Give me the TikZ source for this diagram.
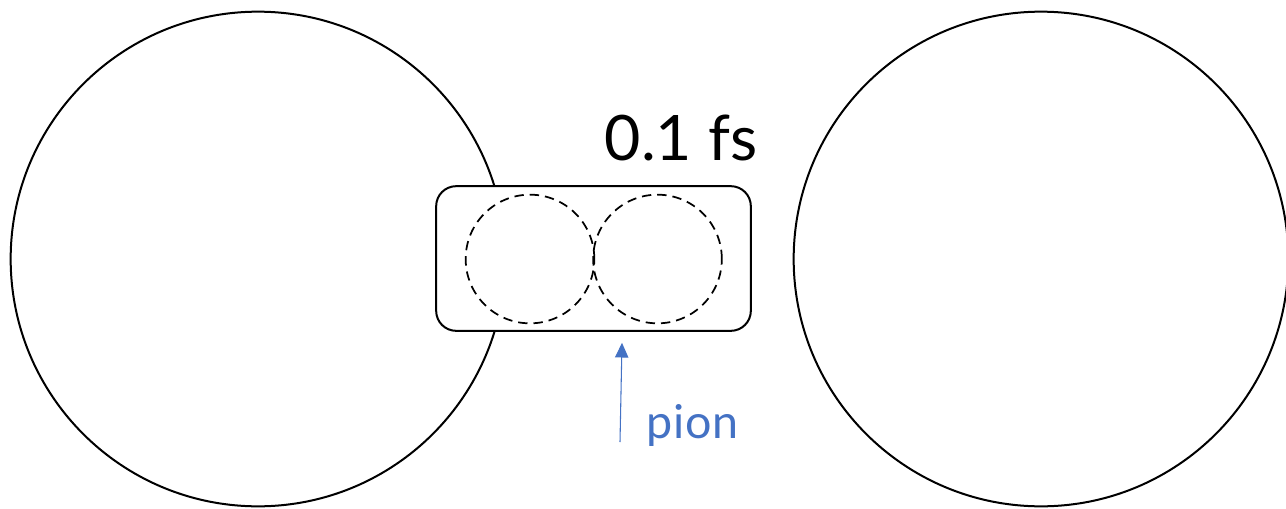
\documentclass[tikz,border=0pt]{standalone}
\usepackage{fontspec}
\setmainfont{Lato}
\usetikzlibrary{arrows.meta, calc, positioning}
\definecolor{pionBlue}{RGB}{68,114,196}

\begin{document}
\begin{tikzpicture}[
  x=0.75pt, y=-0.75pt,
  nucleus/.style={circle, draw=black, line width=1.5pt,
    minimum size=371pt, inner sep=0pt},
  fireball/.style={rectangle, rounded corners=15pt, draw=black, fill=white,
    line width=1.5pt, minimum width=236pt, minimum height=108.5pt,
    inner sep=0pt},
  hadron/.style={circle, draw=black, line width=1.3pt,
    dash pattern=on 7pt off 4.5pt, minimum size=96.5pt, inner sep=0pt},
  arr/.style={-{Triangle[length=11pt,width=10pt]}, line width=0.8pt,
    color=pionBlue},
]
\useasboundingbox (0,0) rectangle (1286,508);

%% ── Colliding nuclei ─────────────────────────────────────────────────────────
\node[nucleus] (NL) at (258,259) {};
\node[nucleus] (NR) at (1041,259) {};

%% ── Interaction region ───────────────────────────────────────────────────────
\node[fireball] (BOX) at (593.5,258.5) {};
\node[hadron] (HL) at (530,259) {};
\node[hadron] (HR) at (657.5,259) {};

%% ── Time scale label ─────────────────────────────────────────────────────────
\node[anchor=base, inner sep=0pt, font=\fontsize{47}{50}\selectfont]
  (TIME) at (681,160) {0.1 fs};

%% ── Pion pointer ─────────────────────────────────────────────────────────────
\node[anchor=base west, inner sep=0pt, text=pionBlue,
      font=\fontsize{35}{38}\selectfont]
  (PION) at (646,438) {p\kern0.6pt i\kern0.6pt o\kern0.6pt n};
\coordinate (pionTail) at (620,442);
\coordinate (pionTip) at ($(BOX.south)+(28.5,11)$);
\draw[arr] (pionTail) -- (pionTip);

\end{tikzpicture}
\end{document}
